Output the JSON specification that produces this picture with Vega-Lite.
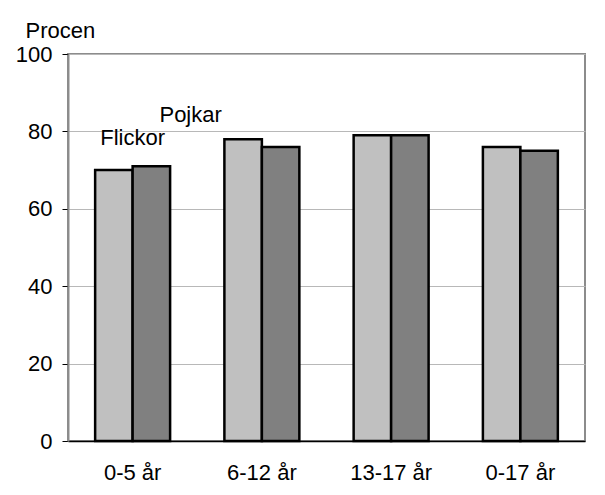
{
  "$schema": "https://vega.github.io/schema/vega-lite/v6.json",
  "autosize": "none",
  "width": 517,
  "height": 387,
  "padding": {"left": 68, "top": 54, "right": 20, "bottom": 54},
  "background": "white",
  "config": {
    "font": "Liberation Sans",
    "view": {"stroke": "#8c8c8c", "strokeWidth": 2},
    "axis": {"labelFont": "Liberation Sans", "titleFont": "Liberation Sans", "labelColor": "#000", "titleColor": "#000"}
  },
  "data": {
    "values": [
      {"age": "0-5 år", "kon": "Flickor", "procent": 70},
      {"age": "0-5 år", "kon": "Pojkar", "procent": 71},
      {"age": "6-12 år", "kon": "Flickor", "procent": 78},
      {"age": "6-12 år", "kon": "Pojkar", "procent": 76},
      {"age": "13-17 år", "kon": "Flickor", "procent": 79},
      {"age": "13-17 år", "kon": "Pojkar", "procent": 79},
      {"age": "0-17 år", "kon": "Flickor", "procent": 76},
      {"age": "0-17 år", "kon": "Pojkar", "procent": 75}
    ]
  },
  "layer": [
    {
      "mark": {"type": "bar", "stroke": "#000", "strokeWidth": 2.5},
      "encoding": {
        "x": {
          "field": "age", "type": "nominal", "sort": null,
          "scale": {"paddingInner": 0.42, "paddingOuter": 0.21},
          "axis": {"title": null, "labelAngle": 0, "labelFontSize": 22, "labelPadding": 21, "ticks": false, "domainColor": "#000", "domainWidth": 1.5}
        },
        "xOffset": {"field": "kon", "type": "nominal", "sort": ["Flickor", "Pojkar"]},
        "y": {
          "field": "procent", "type": "quantitative",
          "scale": {"domain": [0, 100], "nice": false},
          "axis": {
            "values": [0, 20, 40, 60, 80, 100],
            "title": "Procen", "titleAngle": 0, "titleFontSize": 22, "titleFontWeight": "normal",
            "titleX": -43, "titleY": -17, "titleAlign": "left", "titleBaseline": "alphabetic",
            "labelFontSize": 22, "labelPadding": 10, "tickSize": 6, "tickColor": "#000",
            "domainColor": "#8c8c8c", "domainWidth": 2, "gridColor": "#b8b8b8", "gridWidth": 1
          }
        },
        "color": {
          "field": "kon", "type": "nominal",
          "scale": {"domain": ["Flickor", "Pojkar"], "range": ["#c0c0c0", "#808080"]},
          "legend": null
        }
      }
    },
    {
      "data": {"values": [{"label": "Flickor"}]},
      "mark": {"type": "text", "fontSize": 22, "align": "center", "baseline": "alphabetic", "color": "#000"},
      "encoding": {
        "x": {"datum": "0-5 år"},
        "y": {"datum": 76.5},
        "text": {"field": "label"}
      }
    },
    {
      "data": {"values": [{"label": "Pojkar"}]},
      "mark": {"type": "text", "fontSize": 22, "align": "center", "baseline": "alphabetic", "color": "#000", "dx": 58},
      "encoding": {
        "x": {"datum": "0-5 år"},
        "y": {"datum": 82.4},
        "text": {"field": "label"}
      }
    }
  ]
}
